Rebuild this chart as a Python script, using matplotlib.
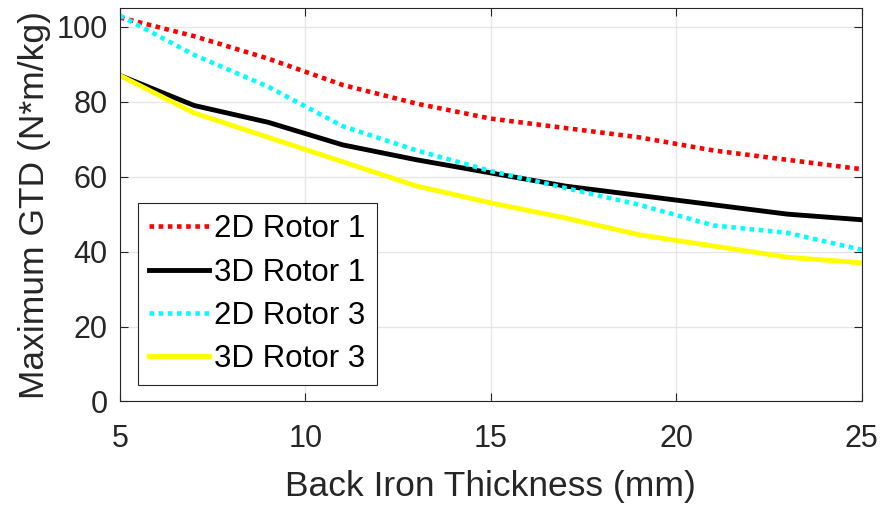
import numpy as np
import matplotlib
matplotlib.use("Agg")
import matplotlib.pyplot as plt

plt.rcParams["font.family"] = ["Liberation Sans", "DejaVu Sans"]

# back iron thickness (mm)
thickness = [5, 7, 9, 11, 13, 15, 17, 19, 21, 23, 25]

# maximum GTD (N*m/kg)
gtd_2d_rotor1 = [102.5, 97.5, 91.5, 84.5, 79.5, 75.5, 73, 70.5, 67, 64.5, 62]
gtd_3d_rotor1 = [87, 79, 74.5, 68.5, 64.5, 61, 57.5, 55, 52.5, 50, 48.5]
gtd_2d_rotor3 = [103, 92.5, 84, 73.5, 67, 61.5, 57, 52.5, 47, 45, 40.5]
gtd_3d_rotor3 = [87, 77, 70.5, 64, 57.5, 53, 49, 44.5, 41.5, 38.5, 37]

labels = ["2D Rotor 1", "3D Rotor 1", "2D Rotor 3", "3D Rotor 3"]

fig = plt.figure(figsize=(8.85, 5.05), dpi=100)
ax = fig.add_axes([0.1356, 0.205, 0.838, 0.779])

dot = (0, (1, 1))
ax.plot(thickness, gtd_2d_rotor1, color="red", lw=3.3, ls=dot, label=labels[0])
ax.plot(thickness, gtd_3d_rotor1, color="black", lw=3.5, label=labels[1])
ax.plot(thickness, gtd_2d_rotor3, color="cyan", lw=3.3, ls=dot, label=labels[2])
ax.plot(thickness, gtd_3d_rotor3, color="yellow", lw=3.5, label=labels[3])

ax.set_xlim(5, 25)
ax.set_ylim(0, 105)
ax.set_xticks([5, 10, 15, 20, 25])
ax.set_yticks([0, 20, 40, 60, 80, 100])
ax.grid(True, color="#e6e6e6", lw=1)
ax.set_axisbelow(True)

ax.tick_params(direction="in", top=True, right=True, length=6,
               labelsize=22, colors="#262626")
ax.tick_params(axis="x", pad=16)
ax.tick_params(axis="y", pad=9)
for s in ax.spines.values():
    s.set_color("#262626")
    s.set_linewidth(0.8)

ax.set_xlabel("Back Iron Thickness (mm)", fontsize=25.5, color="#262626", labelpad=12)
ax.set_ylabel("Maximum GTD (N*m/kg)", fontsize=25.5, color="#262626", labelpad=4)

leg = ax.legend(loc="lower left", bbox_to_anchor=(0.024, 0.041), fontsize=22.5,
                fancybox=False, framealpha=1, edgecolor="#262626",
                handlelength=1.9, handletextpad=0.16, borderpad=0.37,
                labelspacing=0.42, borderaxespad=0)
leg.get_frame().set_linewidth(0.8)

fig.savefig("out.png", dpi=100)
